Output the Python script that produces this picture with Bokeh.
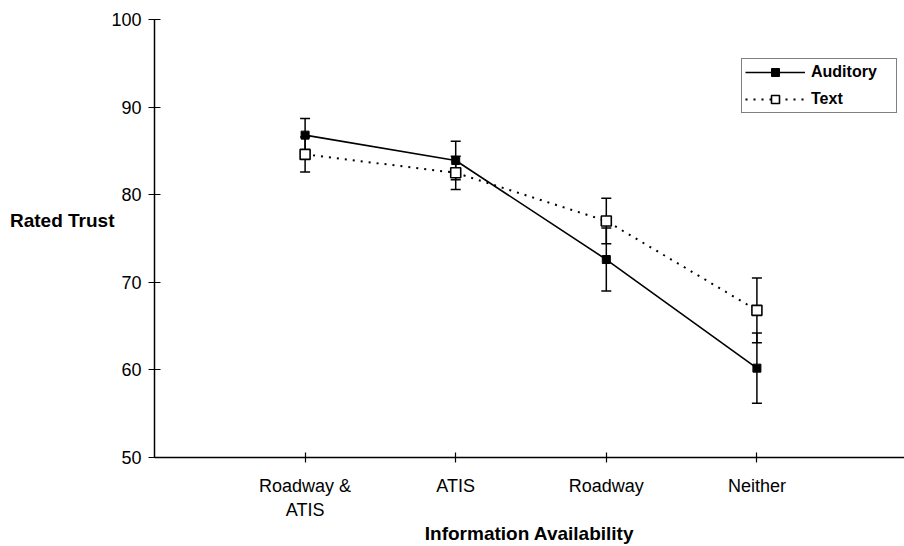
from bokeh.plotting import figure
from bokeh.models import (ColumnDataSource, Whisker, TeeHead, FixedTicker,
                          Legend, LegendItem, Range1d, LinearAxis)
from bokeh.embed import file_html
from bokeh.resources import INLINE

categories = ["Roadway &\nATIS", "ATIS", "Roadway", "Neither"]
positions = [1, 2, 3, 4]
auditory_mean = [86.8, 83.9, 72.6, 60.2]
auditory_err = [1.9, 2.2, 3.6, 4.0]
text_mean = [84.6, 82.5, 77.0, 66.8]
text_err = [2.0, 1.9, 2.6, 3.7]
y_ticks = [50, 60, 70, 80, 90, 100]
y_title = "Rated Trust"
y_title_at = 77.05

FONT = "Liberation Sans"

p = figure(width=904, height=546, output_backend="svg", toolbar_location=None,
           x_range=Range1d(0, 4.98), y_range=Range1d(50, 100),
           min_border_left=154, min_border_right=0, min_border_top=19,
           min_border_bottom=89)
p.outline_line_color = None
p.xgrid.visible = False
p.ygrid.visible = False
p.background_fill_color = "white"
p.border_fill_color = "white"

a_src = ColumnDataSource(dict(
    x=positions, y=auditory_mean,
    lo=[m - e for m, e in zip(auditory_mean, auditory_err)],
    hi=[m + e for m, e in zip(auditory_mean, auditory_err)]))
t_src = ColumnDataSource(dict(
    x=positions, y=text_mean,
    lo=[m - e for m, e in zip(text_mean, text_err)],
    hi=[m + e for m, e in zip(text_mean, text_err)]))

for src in (a_src, t_src):
    w = Whisker(source=src, base="x", upper="hi", lower="lo", dimension="height",
                line_color="black", line_width=1.5, level="underlay",
                upper_head=TeeHead(size=10, line_color="black", line_width=1.5),
                lower_head=TeeHead(size=10, line_color="black", line_width=1.5))
    p.add_layout(w)

la = p.line("x", "y", source=a_src, line_color="black", line_width=1.6)
lt = p.line("x", "y", source=t_src, line_color="black", line_width=2,
            line_dash="2 6")
sa = p.scatter("x", "y", source=a_src, marker="square", size=8,
               fill_color="black", line_color="black")
st = p.scatter("x", "y", source=t_src, marker="square", size=10,
               fill_color="white", line_color="black", line_width=1.6)

legend = Legend(items=[LegendItem(label="Auditory", renderers=[la, sa]),
                       LegendItem(label="Text", renderers=[lt, st])],
                location=(587, 344), margin=0, padding=3, spacing=7,
                glyph_width=60, glyph_height=20, label_height=20,
                label_width=82, label_standoff=6,
                label_text_font=FONT, label_text_font_size="16px",
                label_text_font_style="bold", label_text_color="black",
                border_line_color="black", border_line_width=1.2,
                background_fill_color="white", background_fill_alpha=1)
p.add_layout(legend, "center")

# axes
p.yaxis.ticker = FixedTicker(ticks=y_ticks)
p.yaxis.major_tick_in = 6
p.yaxis.major_tick_out = 6
p.yaxis.minor_tick_line_color = None
p.yaxis.major_label_standoff = 7
p.yaxis.major_label_text_font = FONT
p.yaxis.major_label_text_font_size = "18px"
p.yaxis.major_label_text_color = "black"
p.yaxis.axis_line_width = 1.5
p.yaxis.major_tick_line_width = 1.2

# horizontal y title, drawn as the single label of an outer axis
ttl_axis = LinearAxis(ticker=FixedTicker(ticks=[y_title_at]),
                      major_label_overrides={y_title_at: y_title},
                      axis_line_color=None, major_tick_line_color=None,
                      minor_tick_line_color=None, major_tick_in=0,
                      major_tick_out=0, major_label_standoff=-6,
                      major_label_text_font=FONT,
                      major_label_text_font_size="19px",
                      major_label_text_font_style="bold",
                      major_label_text_color="black")
p.add_layout(ttl_axis, "left")

p.xaxis.ticker = FixedTicker(ticks=positions)
p.xaxis.major_label_overrides = {pos: lab for pos, lab in zip(positions, categories)}
p.xaxis.major_tick_in = 5
p.xaxis.major_tick_out = 5
p.xaxis.minor_tick_line_color = None
p.xaxis.major_label_standoff = 13
p.xaxis.major_label_text_font = FONT
p.xaxis.major_label_text_font_size = "18px"
p.xaxis.major_label_text_color = "black"
p.xaxis.axis_line_width = 1.5
p.xaxis.major_tick_line_width = 1.2
p.xaxis.axis_label = "Information Availability"
p.xaxis.axis_label_text_font = FONT
p.xaxis.axis_label_text_font_size = "19px"
p.xaxis.axis_label_text_font_style = "bold"
p.xaxis.axis_label_text_color = "black"
p.xaxis.axis_label_standoff = 0

open("out.html", "w").write(file_html(p, INLINE))
